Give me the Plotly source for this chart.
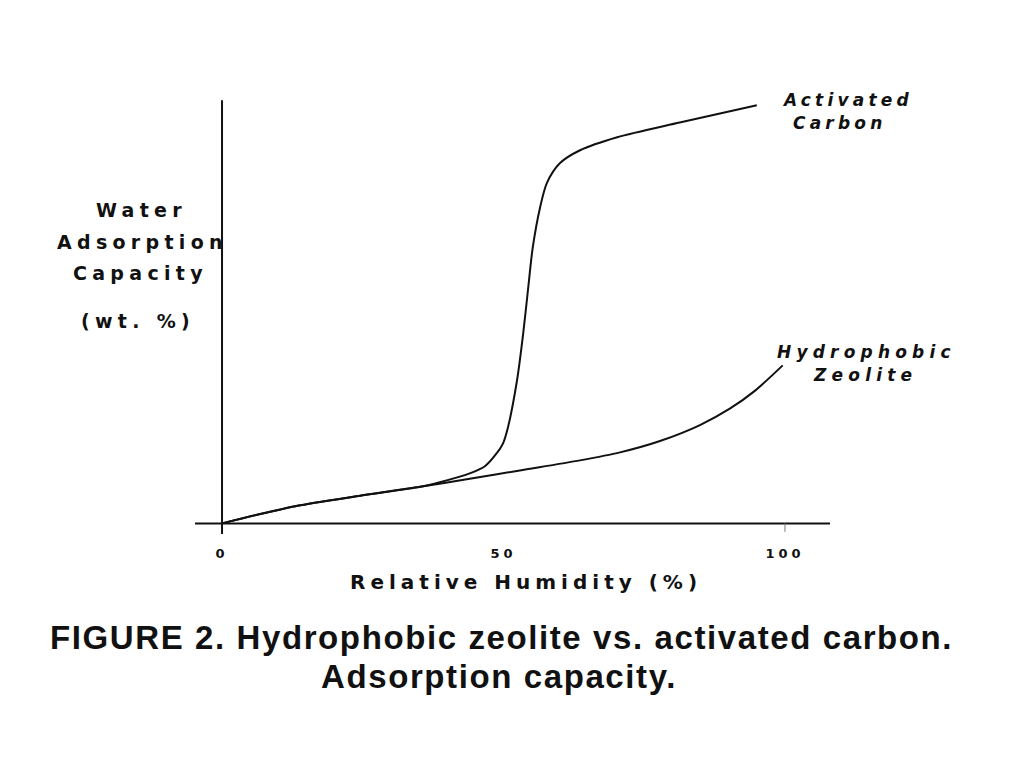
import plotly.graph_objects as go

# Data (x: relative humidity %, y: arbitrary wt.% scale 0-100)
carbon_x = [0, 7, 13.9, 24.5, 35.2, 38.7, 44.0, 46.7, 48.8, 49.9, 50.8, 52.4, 53.5, 54.4, 55.2, 56.5, 57.7, 60.0, 63.6, 70.2, 81.3, 95.0]
carbon_y = [0, 2.3, 4.3, 6.6, 8.7, 9.8, 11.9, 13.6, 16.7, 19.0, 22.9, 34.0, 45.2, 56.2, 65.7, 75.2, 81.0, 85.7, 88.8, 91.9, 95.4, 99.5]

zeolite_x = [0, 7, 13.9, 24.5, 35.2, 44.0, 52.9, 63.6, 70.7, 77.8, 84.9, 90.2, 94.7, 99.6]
zeolite_y = [0, 2.3, 4.3, 6.6, 8.7, 10.6, 12.6, 15.0, 16.9, 19.6, 23.4, 27.3, 31.6, 37.6]

x_ticks = [0, 50, 100]
x_tick_labels = ["0", "50", "100"]

W, H = 1024, 768
OFF = 8  # page body margin
L, R, T, B = 195 - OFF, 830 - OFF, 99 - OFF, 536 - OFF

def px(xp):
    return (xp - OFF - L) / (R - L)

def py(yp):
    return (B - (yp - OFF)) / (B - T)

def sp(text, ls):
    return '<span style="letter-spacing:%spx">%s</span>' % (ls, text)

fig = go.Figure()
fig.add_trace(go.Scatter(x=carbon_x, y=carbon_y, mode="lines",
                         line=dict(color="#111", width=2, shape="spline", smoothing=0.8),
                         name="Activated Carbon", showlegend=False))
fig.add_trace(go.Scatter(x=zeolite_x, y=zeolite_y, mode="lines",
                         line=dict(color="#111", width=2, shape="spline", smoothing=0.8),
                         name="Hydrophobic Zeolite", showlegend=False))

# axes lines
fig.add_shape(type="line", x0=-4.8, x1=108, y0=0, y1=0, line=dict(color="#111", width=2))
fig.add_shape(type="line", x0=0, x1=0, y0=-2.5, y1=100.7, line=dict(color="#111", width=2))
fig.add_shape(type="line", x0=100, x1=100, y0=0, y1=-2.0, line=dict(color="#777", width=1))

ann = []

def add(text, xp, yp, font):
    ann.append(dict(x=px(xp), y=py(yp), xref="paper", yref="paper", text=text,
                    showarrow=False, font=font, xanchor="center", yanchor="middle", align="center"))

label_font = dict(family="DejaVu Sans", size=19, color="#111")
add(sp("<b>Water</b>", 5.3), 141, 210, label_font)
add(sp("<b>Adsorption</b>", 5.3), 142, 242, label_font)
add(sp("<b>Capacity</b>", 5.3), 140, 273, label_font)
add(sp("<b>(wt. %)</b>", 5.3), 138, 321, label_font)
add(sp("<b>Relative Humidity (%)</b>", 5.0), 526, 582, dict(family="DejaVu Sans", size=20, color="#111"))

ital = dict(family="DejaVu Sans", size=17, color="#111")
add(sp("<b><i>Activated</i></b>", 4.2), 847, 100, ital)
add(sp("<b><i>Carbon</i></b>", 4.2), 839, 123, ital)
add(sp("<b><i>Hydrophobic</i></b>", 5.2), 866, 352, ital)
add(sp("<b><i>Zeolite</i></b>", 5.2), 865, 375, ital)

cap = dict(family="Liberation Sans", size=33, color="#111")
add(sp("<b>FIGURE 2. Hydrophobic zeolite vs. activated carbon.</b>", 1.6), 501, 637, cap)
add(sp("<b>Adsorption capacity.</b>", 1.6), 499, 676, cap)

fig.update_layout(
    width=W, height=H,
    margin=dict(l=L, r=W - R, t=T, b=H - B),
    paper_bgcolor="white", plot_bgcolor="white",
    annotations=ann,
    xaxis=dict(range=[-4.8, 108], showgrid=False, zeroline=False, showline=False,
               tickvals=x_ticks, ticktext=[sp("<b>%s</b>" % t, 4) for t in x_tick_labels], ticks="",
               ticklabelstandoff=8,
               tickfont=dict(family="DejaVu Sans", size=13, color="#111")),
    yaxis=dict(range=[-3, 101], showgrid=False, zeroline=False, showline=False,
               showticklabels=False, ticks=""),
)
fig.write_html("out.html")
